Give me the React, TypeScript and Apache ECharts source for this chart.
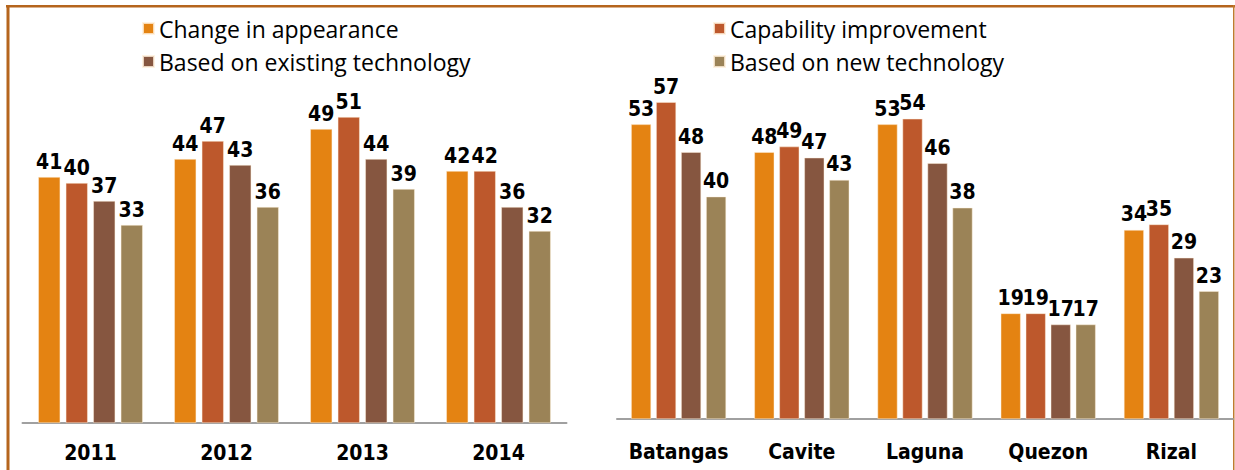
import React, { useEffect, useRef } from "react";
import * as echarts from "echarts";

const years = ["2011", "2012", "2013", "2014"];
const provinces = ["Batangas", "Cavite", "Laguna", "Quezon", "Rizal"];
const seriesNames = [
  "Change in appearance",
  "Capability improvement",
  "Based on existing technology",
  "Based on new technology",
];
const colors = ["#E48312", "#BD582C", "#865640", "#9B8357"];

const yearAppearance = [41, 44, 49, 42];
const yearCapability = [40, 47, 51, 42];
const yearExisting = [37, 43, 44, 36];
const yearNew = [33, 36, 39, 32];

const provAppearance = [53, 48, 53, 19, 34];
const provCapability = [57, 49, 54, 19, 35];
const provExisting = [48, 47, 46, 17, 29];
const provNew = [40, 43, 38, 17, 23];

const yearData = [yearAppearance, yearCapability, yearExisting, yearNew];
const provData = [provAppearance, provCapability, provExisting, provNew];

const labelFont = "'DejaVu Sans Condensed', 'Liberation Sans Narrow', 'DejaVu Sans', sans-serif";
const legendFont = "'Open Sans', 'Noto Sans', sans-serif";

export default function App() {
  const ref = useRef<HTMLDivElement>(null);
  useEffect(() => {
    document.body.style.margin = "0";
    const chart = echarts.init(ref.current!, null, { renderer: "svg" });
    const mkSeries = (data: number[][], idx: number, barWidth: number) =>
      data.map((d, i) => ({
        name: seriesNames[i],
        type: "bar",
        xAxisIndex: idx,
        yAxisIndex: idx,
        data: d,
        barWidth,
        barGap: "25%",
        itemStyle: { color: colors[i], borderColor: "rgba(255,240,220,0.8)", borderWidth: 0.6 },
        label: {
          show: true,
          position: "top",
          distance: 5,
          color: "#000",
          fontWeight: "bold",
          fontSize: 21,
          fontFamily: labelFont,
        },
      }));
    const axisLabel = (margin: number) => ({
      color: "#000",
      fontWeight: "bold",
      fontSize: 21,
      fontFamily: labelFont,
      margin,
      interval: 0,
    });
    const legendText = { fontSize: 23, fontFamily: legendFont, color: "#000", lineHeight: 22 };
    chart.setOption({
      animation: false,
      color: colors,
      legend: [
        {
          orient: "vertical",
          left: 137,
          top: 12,
          itemWidth: 11,
          itemHeight: 11,
          itemGap: 10,
          icon: "rect",
          data: [seriesNames[0], seriesNames[2]],
          textStyle: legendText,
          selectedMode: false,
        },
        {
          orient: "vertical",
          left: 708,
          top: 12,
          itemWidth: 11,
          itemHeight: 11,
          itemGap: 10,
          icon: "rect",
          data: [seriesNames[1], seriesNames[3]],
          textStyle: legendText,
          selectedMode: false,
        },
      ],
      grid: [
        { left: 22.5, width: 544, top: 63, bottom: 47 },
        { left: 617, right: 2, top: 85.4, bottom: 51 },
      ],
      xAxis: [
        {
          type: "category",
          gridIndex: 0,
          data: years,
          axisTick: { show: false },
          axisLine: { lineStyle: { color: "#a0a0a0", width: 2 } },
          axisLabel: axisLabel(19),
        },
        {
          type: "category",
          gridIndex: 1,
          data: provinces,
          axisTick: { show: false },
          axisLine: { lineStyle: { color: "#a0a0a0", width: 2 } },
          axisLabel: axisLabel(22),
        },
      ],
      yAxis: [
        { type: "value", gridIndex: 0, min: 0, max: 60, show: false },
        { type: "value", gridIndex: 1, min: 0, max: 60, show: false },
      ],
      series: [...mkSeries(yearData, 0, 22), ...mkSeries(provData, 1, 20)],
      graphic: [
        { type: "rect", shape: { x: 6, y: 5, width: 1229, height: 2.5 }, style: { fill: "#B5651D" } },
        { type: "rect", shape: { x: 6.5, y: 5, width: 3, height: 470 }, style: { fill: "#B5651D" } },
        { type: "rect", shape: { x: 1233, y: 5, width: 1.5, height: 470 }, style: { fill: "#C07A30" } },
      ],
    });
    return () => chart.dispose();
  }, []);
  return <div ref={ref} style={{ width: 1235, height: 470 }} />;
}
